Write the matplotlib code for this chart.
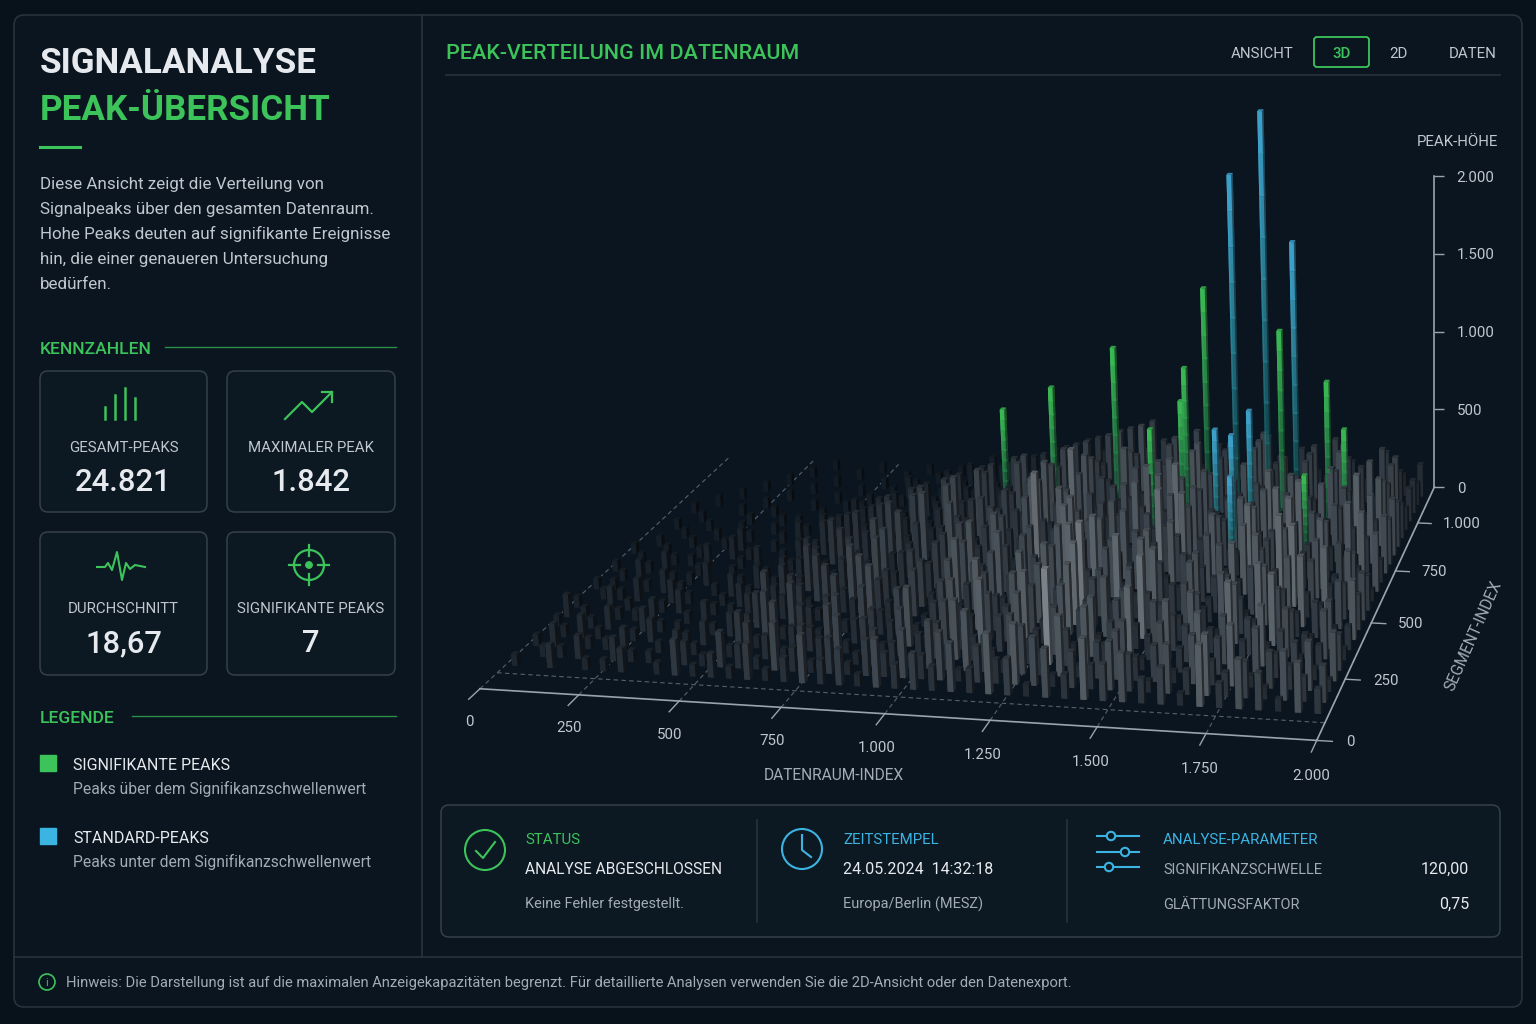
import numpy as np
import matplotlib.pyplot as plt
from matplotlib.patches import FancyBboxPatch, Circle, Rectangle
from matplotlib.ticker import FuncFormatter
from mpl_toolkits.mplot3d import proj3d

plt.rcParams["font.family"] = ["Roboto", "DejaVu Sans"]

# ---------------- data ----------------
x_ticks = [0, 250, 500, 750, 1000, 1250, 1500, 1750, 2000]
seg_ticks = [0, 250, 500, 750, 1000]
z_ticks = [0, 500, 1000, 1500, 2000]

# background peak field in steps of GRID_UNIT
# one row per segment band (front first), one digit per index band
GRID_UNIT = 50
grid_rows = [
    "10201120131 21312423142 32425314253 42315243142",
    "01120211021 32142131324 24132541324 31425231423",
    "12011201210 13213241321 42531425134 23142513241",
    "01210120121 31422413142 35214283524 14253142314",
    "10120211012 24131423251 42635241536 25314253123",
    "21011201201 31423142413 52436253142 43526314241",
    "10210120112 42314252314 26354263547 32415263142",
    "01120210121 23142531425 34265374253 14253642315",
    "11012101210 32415231426 45326384726 35241536243",
    "01201120121 14231524315 36245735264 25364152634",
    "10120101012 23142531426 24536475362 43526374253",
    "01011201201 31425231453 62537463546 35264735241",
    "10101021012 24132542634 53947526384 26374536425",
    "01010120101 32415263425 36475362547 35264735262",
    "00101010120 13241526354 47362547365 24637452635",
    "01010101012 21342536425 36495364786 45263745364",
    "00100101101 12324153624 57463547365 36475264735",
    "01001010010 21213242536 36475364736 24536425364",
    "00100100101 11213241536 25364736475 36425364253",
    "00010010010 10121324253 46352645374 25364253642",
    "00001001001 01211213242 53647536425 36425364253",
    "00000100100 10102121324 35264736425 36425364253",
    "00000010010 01010212132 42536453625 36425342532",
    "00000001001 00101021213 24352635243 25342532423",
]

peak_x = [910, 1065, 1225, 1345, 1405, 1430, 1460, 1515, 1545, 1570, 1585,
          1605, 1620, 1665, 1695, 1760, 1785, 1835]
peak_seg = [960, 907, 933, 853, 920, 880, 960, 853, 933, 813, 747,
            853, 960, 933, 960, 800, 933, 907]
peak_h = [480, 630, 800, 500, 580, 760, 1060, 510, 1580, 520, 390,
          600, 1842, 900, 1275, 365, 680, 490]
peak_kind = ["sig", "sig", "sig", "sig", "sig", "sig", "sig", "std", "std", "std", "std",
             "std", "std", "sig", "std", "sig", "sig", "sig"]

kpi_labels = ["GESAMT-PEAKS", "MAXIMALER PEAK", "DURCHSCHNITT", "SIGNIFIKANTE PEAKS"]
kpi_values = ["24.821", "1.842", "18,67", "7"]
threshold = "120,00"
smoothing = "0,75"

# ---------------- style ----------------
W, H = 1536, 1024
BG = "#08121a"
PANEL = "#0a1520"
EDGE = "#27323c"
CARD_EC = "#34404b"
CARD_FC = "#0c1822"
GREEN = "#3cc35a"
BLUE = "#3cb4e2"
WHITE = "#e6eaee"
TXT = "#c0c7ce"
SUB = "#a3acb5"
AXIS = "#9aa4ad"


def px(s):
    return s * 0.72


def de(v):
    return f"{int(v):,}".replace(",", ".")


fig = plt.figure(figsize=(15.36, 10.24), dpi=100)
fig.patch.set_facecolor(BG)
bg = fig.add_axes([0, 0, 1, 1])
bg.set_xlim(0, W)
bg.set_ylim(H, 0)
bg.axis("off")


def rbox(x0, y0, x1, y1, r=8, ec=EDGE, fc="none", lw=1.0):
    bg.add_patch(FancyBboxPatch((x0 + r, y0 + r), x1 - x0 - 2 * r, y1 - y0 - 2 * r,
                                boxstyle=f"round,pad={r},rounding_size={r}",
                                ec=ec, fc=fc, lw=lw))


def t(x, y, s, size, color=TXT, ha="left", weight="normal", **kw):
    bg.text(x, y, s, fontsize=px(size), color=color, ha=ha, va="baseline",
            fontweight=weight, **kw)


# frame
rbox(14, 15, 1522, 1007, r=10, ec=EDGE, fc=PANEL, lw=1.2)
bg.plot([422, 422], [15, 957], color=EDGE, lw=1.2)
bg.plot([14, 1522], [957, 957], color=EDGE, lw=1.2)

# ---------------- left panel ----------------
t(40, 73, "SIGNALANALYSE", 35, WHITE, weight="bold")
t(40, 120, "PEAK-ÜBERSICHT", 35, GREEN, weight="bold")
bg.plot([40, 80], [147, 147], color=GREEN, lw=2.2)
body = ["Diese Ansicht zeigt die Verteilung von",
        "Signalpeaks über den gesamten Datenraum.",
        "Hohe Peaks deuten auf signifikante Ereignisse",
        "hin, die einer genaueren Untersuchung",
        "bedürfen."]
for i, line in enumerate(body):
    t(40, 189 + 25 * i, line, 17, TXT)

t(40, 354, "KENNZAHLEN", 17.5, GREEN, weight="medium")
bg.plot([165, 396], [347, 347], color=GREEN, lw=1, alpha=0.7)

cards = [(40, 371, 207, 512), (227, 371, 395, 512), (40, 532, 207, 675), (227, 532, 395, 675)]
for (x0, y0, x1, y1), lab, val in zip(cards, kpi_labels, kpi_values):
    rbox(x0, y0, x1, y1, r=8, ec=CARD_EC, fc=CARD_FC, lw=1.1)
    cx = (x0 + x1) / 2
    t(cx, y0 + 81, lab, 15, TXT, ha="center")
    t(cx, y0 + 120, val, 31, WHITE, ha="center", weight="medium")

# icons
for bxx, top in zip([105, 115, 125, 135], [407, 395, 388, 398]):
    bg.plot([bxx, bxx], [419, top], color=GREEN, lw=1.8)
bg.plot([285, 302, 312, 332], [419, 402, 412, 392], color=GREEN, lw=1.6)
bg.plot([322, 332, 332], [392, 392, 402], color=GREEN, lw=1.6)
bg.plot([97, 105, 108, 112, 117, 122, 126, 130, 135, 145],
        [567, 567, 563, 570, 552, 580, 563, 569, 565, 567], color=GREEN, lw=1.5)
bg.add_patch(Circle((309, 565), 15, fill=False, ec=GREEN, lw=1.6))
bg.add_patch(Circle((309, 565), 3.2, color=GREEN))
for d0, d1 in [((289, 565), (300, 565)), ((318, 565), (329, 565)),
               ((309, 545), (309, 556)), ((309, 574), (309, 585))]:
    bg.plot([d0[0], d1[0]], [d0[1], d1[1]], color=GREEN, lw=1.6)

t(40, 723, "LEGENDE", 17.5, GREEN, weight="medium")
bg.plot([132, 396], [716, 716], color=GREEN, lw=1, alpha=0.7)
bg.add_patch(Rectangle((40, 755), 16, 16, color=GREEN))
t(73, 770, "SIGNIFIKANTE PEAKS", 16, WHITE)
t(73, 794, "Peaks über dem Signifikanzschwellenwert", 15.6, SUB)
bg.add_patch(Rectangle((40, 828), 16, 16, color=BLUE))
t(73, 843, "STANDARD-PEAKS", 16, WHITE)
t(73, 867, "Peaks unter dem Signifikanzschwellenwert", 15.6, SUB)

# footer
bg.add_patch(Circle((47, 982), 8, fill=False, ec=GREEN, lw=1.2))
bg.text(47, 982.5, "i", fontsize=px(11), color=GREEN, ha="center", va="center")
t(66, 987, "Hinweis: Die Darstellung ist auf die maximalen Anzeigekapazitäten begrenzt. "
  "Für detaillierte Analysen verwenden Sie die 2D-Ansicht oder den Datenexport.", 14.7, SUB)

# ---------------- right panel header ----------------
t(446, 59, "PEAK-VERTEILUNG IM DATENRAUM", 21.5, GREEN, weight="medium")
t(1231, 58, "ANSICHT", 15, TXT)
rbox(1314, 37, 1369, 67, r=3, ec=GREEN, fc="none", lw=1.3)
t(1341.5, 58, "3D", 15, GREEN, ha="center", weight="medium")
t(1398, 58, "2D", 15, TXT, ha="center")
t(1497, 58, "DATEN", 15, TXT, ha="right")
bg.plot([446, 1500], [75, 75], color=EDGE, lw=1.2)

# ---------------- status panel ----------------
rbox(441, 805, 1500, 937, r=8, ec=CARD_EC, fc=CARD_FC, lw=1.1)
bg.plot([757, 757], [820, 922], color=EDGE, lw=1.2)
bg.plot([1067, 1067], [820, 922], color=EDGE, lw=1.2)
bg.add_patch(Circle((485, 850), 20, fill=False, ec=GREEN, lw=1.5))
bg.plot([476, 483, 495], [851, 858, 842], color=GREEN, lw=1.5)
t(525, 844, "STATUS", 15, GREEN)
t(525, 874, "ANALYSE ABGESCHLOSSEN", 15.5, WHITE)
t(525, 908, "Keine Fehler festgestellt.", 14.5, SUB)

bg.add_patch(Circle((802, 849), 20, fill=False, ec=BLUE, lw=1.5))
bg.plot([802, 802, 811], [835, 850, 857], color=BLUE, lw=1.5)
t(843, 844, "ZEITSTEMPEL", 15, BLUE)
t(843, 874, "24.05.2024  14:32:18", 16, WHITE)
t(843, 909, "Europa/Berlin (MESZ)", 14.5, SUB)

for yy, kx in zip([836, 852, 867], [1111, 1125, 1109]):
    bg.plot([1097, 1139], [yy, yy], color=BLUE, lw=1.5)
    bg.add_patch(Circle((kx, yy), 4.2, fc=CARD_FC, ec=BLUE, lw=1.5, zorder=3))
t(1163, 844, "ANALYSE-PARAMETER", 15, BLUE)
t(1163, 874, "SIGNIFIKANZSCHWELLE", 14.5, SUB)
t(1469, 874, threshold, 16, WHITE, ha="right")
t(1163, 909, "GLÄTTUNGSFAKTOR", 14.5, SUB)
t(1469, 909, smoothing, 16, WHITE, ha="right")

# ---------------- 3D peak field ----------------
S = 1100
CX, CY = 962, 368
SEG_MAX = 1200
ax = fig.add_axes([(CX - S / 2) / W, 1 - (CY + S / 2) / H, S / W, S / H], projection="3d",
                  computed_zorder=False)
ax.set_proj_type("persp", focal_length=0.6)
ax.view_init(elev=16, azim=-74, roll=2.6)
ax.set_xlim(0, 2000)
ax.set_ylim(0, SEG_MAX)
ax.set_zlim(0, 2000)
ax.set_box_aspect((2.0, 1.8, 1.2), zoom=1.05)
ax.set_axis_off()
ax.patch.set_alpha(0)

heights = np.array([[int(c) for c in "".join(r.split())] for r in grid_rows]) * GRID_UNIT
n_seg, n_x = heights.shape
x_pos = np.linspace(25, 1975, n_x)
s_pos = np.linspace(110, 1150, n_seg)

bg_rgb = np.array([0.04, 0.08, 0.12])
light = np.array([0.80, 0.83, 0.86])
bx, by, bz, bdx, bdy, bdz, bcol = [], [], [], [], [], [], []
for i, sp in enumerate(s_pos):
    for j, xp in enumerate(x_pos):
        h = heights[i, j]
        if h <= 0:
            continue
        depth = sp / SEG_MAX
        left = 1 - xp / 2000
        b = (0.14 + 0.74 * min(h / 420, 1) ** 1.5) * (1 - 0.5 * depth) * (1 - 0.6 * left * (0.4 + 0.6 * depth))
        rgb = bg_rgb + (light - bg_rgb) * b
        bx.append(xp - 7)
        by.append(sp - 7)
        bz.append(0)
        bdx.append(14)
        bdy.append(14)
        bdz.append(h)
        bcol.append((*rgb, 1.0))

seg_n = 10
tops = {"sig": np.array([0.27, 0.84, 0.38]), "std": np.array([0.29, 0.73, 0.93])}
bots = {"sig": np.array([0.12, 0.45, 0.32]), "std": np.array([0.10, 0.50, 0.48])}
for xp, sp, h, kind in zip(peak_x, peak_seg, peak_h, peak_kind):
    for k in range(seg_n):
        f = (k + 0.5) / seg_n
        rgb = bots[kind] + (tops[kind] - bots[kind]) * f
        bx.append(xp - 6)
        by.append(sp - 7)
        bz.append(h * k / seg_n)
        bdx.append(12)
        bdy.append(14)
        bdz.append(h / seg_n)
        bcol.append((*rgb, 0.15 + 0.85 * f ** 0.8))

# floor guides
for xv in x_ticks:
    ax.plot([xv, xv], [0, SEG_MAX], [0, 0], color="#56616b", lw=0.8, ls=(0, (4, 3)), zorder=1)
ax.plot([0, 2000], [70, 70], [0, 0], color="#56616b", lw=0.8, ls=(0, (4, 3)), zorder=1)

ax.bar3d(bx, by, bz, bdx, bdy, bdz, color=bcol, shade=True, lw=0, zorder=2)

# axis lines
ax.plot([0, 2000], [0, 0], [0, 0], color=AXIS, lw=1.2, zorder=3)
ax.plot([2000, 2000], [0, SEG_MAX], [0, 0], color=AXIS, lw=1.2, zorder=3)
for xv in x_ticks:
    ax.plot([xv, xv], [0, -45], [0, 0], color=AXIS, lw=1.0, zorder=3)
for sv in seg_ticks:
    ax.plot([2000, 2035], [sv, sv], [0, 0], color=AXIS, lw=1.0, zorder=3)

# tick labels placed through the axes' own projection
M = ax.get_proj()
for xv in x_ticks:
    u, v, _ = proj3d.proj_transform(xv, -50, -90, M)
    ax.text2D(u, v, de(xv), transform=ax.transData, color=TXT, fontsize=px(15),
              ha="center", va="center")
for sv in seg_ticks:
    u, v, _ = proj3d.proj_transform(2065, sv, 0, M)
    ax.text2D(u, v, de(sv), transform=ax.transData, color=TXT, fontsize=px(15),
              ha="left", va="center")

fig.text(834 / W, 1 - 775 / H, "DATENRAUM-INDEX", color=SUB, fontsize=px(15.5),
         ha="center", va="center")
fig.text(1473 / W, 1 - 636 / H, "SEGMENT-INDEX", color=SUB, fontsize=px(15.5),
         ha="center", va="center", rotation=66)

# height scale, standing on the far end of the segment axis
fig.canvas.draw()
u, v, _ = proj3d.proj_transform(2000, SEG_MAX, 0, ax.M)
zx, zy = ax.transData.transform((u, v))
top_px = H - 176
axz = fig.add_axes([zx / W, zy / H, 60 / W, (top_px - zy) / H])
axz.set_ylim(0, 2000)
axz.set_xlim(0, 1)
axz.patch.set_alpha(0)
for sp_name in ["top", "right", "bottom"]:
    axz.spines[sp_name].set_visible(False)
axz.spines["left"].set_color(AXIS)
axz.spines["left"].set_linewidth(1.2)
axz.set_xticks([])
axz.set_yticks(z_ticks)
axz.yaxis.set_major_formatter(FuncFormatter(lambda v, _: de(v)))
axz.tick_params(axis="y", direction="in", length=7, width=1, colors=AXIS,
                labelcolor=TXT, labelsize=px(15), pad=-16)
for lab in axz.get_yticklabels():
    lab.set_horizontalalignment("left")
fig.text(1498 / W, 1 - 142 / H, "PEAK-HÖHE", color=TXT, fontsize=px(15), ha="right", va="center")

fig.savefig("out.png", dpi=100, facecolor=BG)
